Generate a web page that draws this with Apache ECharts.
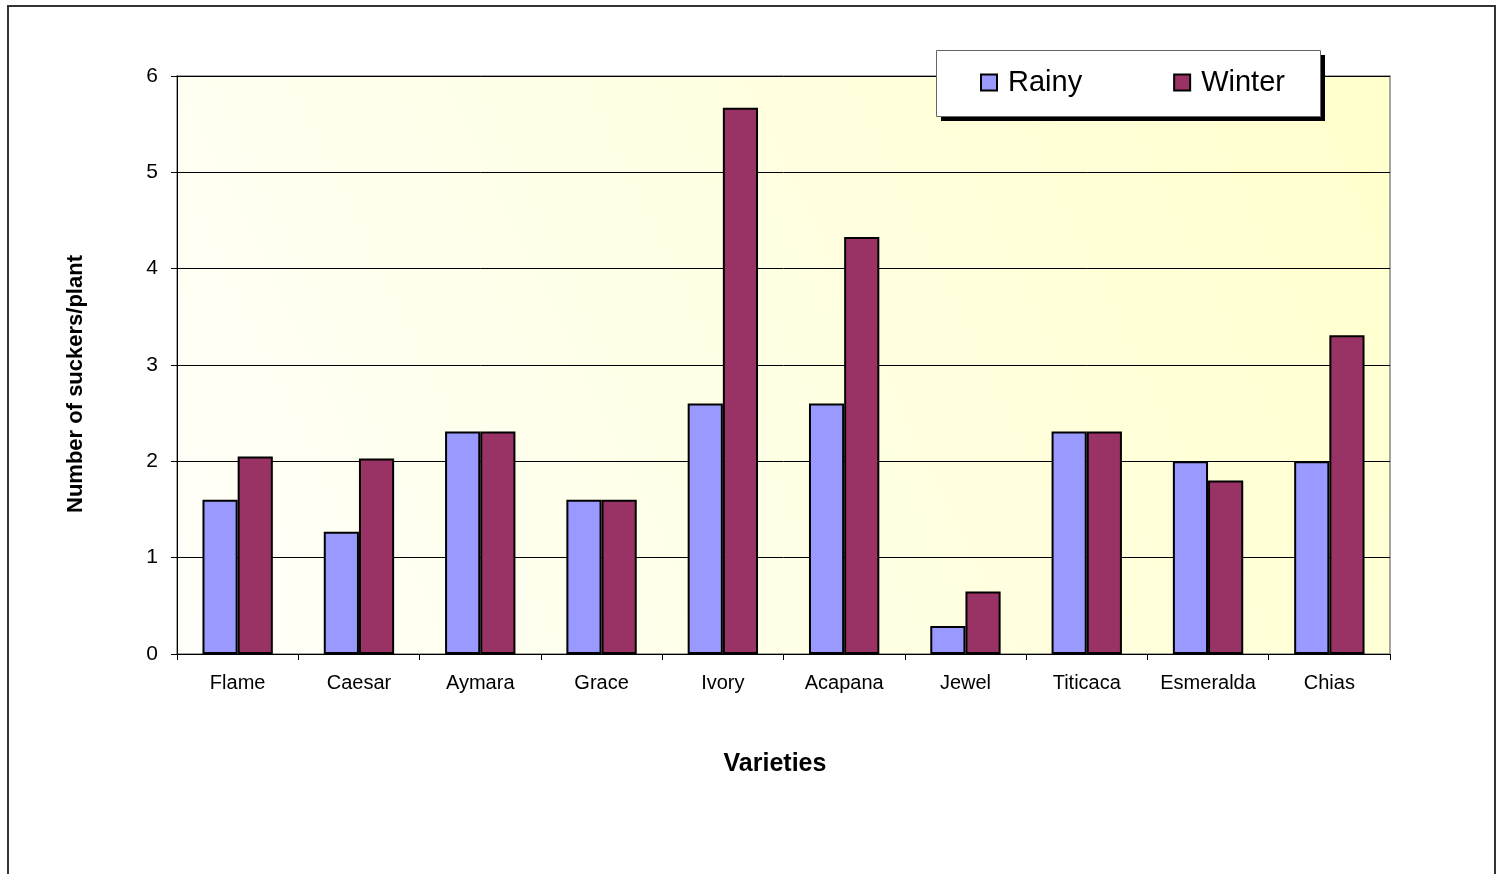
<!DOCTYPE html>
<html>
<head>
<meta charset="utf-8">
<script src="https://cdn.jsdelivr.net/npm/echarts@6/dist/echarts.min.js"></script>
<style>html,body{margin:0;padding:0;background:#fff;}#c{width:1499px;height:874px;}</style>
</head>
<body>
<div id="c"></div>
<script>
const categories = ['Flame','Caesar','Aymara','Grace','Ivory','Acapana','Jewel','Titicaca','Esmeralda','Chias'];
const rainy = [1.6, 1.27, 2.31, 1.6, 2.6, 2.6, 0.29, 2.31, 2.0, 2.0];
const winter = [2.05, 2.03, 2.31, 1.6, 5.67, 4.33, 0.65, 2.31, 1.8, 3.31];
const yTicks = [0, 1, 2, 3, 4, 5, 6];
const xTitle = 'Varieties';
const yTitle = 'Number of suckers/plant';

const chart = echarts.init(document.getElementById('c'), null, {renderer: 'canvas'});
const font = 'Arial, "Liberation Sans", sans-serif';
chart.setOption({
  animation: false,
  backgroundColor: '#fff',
  textStyle: {fontFamily: font},
  graphic: [
    {
      type: 'rect', z: 100,
      shape: {x: 8, y: 6, width: 1487, height: 900},
      style: {fill: 'none', stroke: '#333', lineWidth: 2}
    },
    {
      type: 'rect', z: 90,
      shape: {x: 941, y: 55, width: 384, height: 66},
      style: {fill: '#000'}
    },
    {
      type: 'rect', z: 91,
      shape: {x: 936.5, y: 50.5, width: 384, height: 66},
      style: {fill: '#fff', stroke: '#666', lineWidth: 1}
    },
    {
      type: 'text', z: 50,
      x: 775, y: 764,
      style: {text: xTitle, font: 'bold 25px ' + font, fill: '#000', align: 'center', verticalAlign: 'middle'}
    },
    {
      type: 'text', z: 50,
      x: 76, y: 384, rotation: Math.PI / 2,
      style: {text: yTitle, font: 'bold 22px ' + font, fill: '#000', align: 'center', verticalAlign: 'middle'}
    }
  ],
  legend: {
    left: 980, top: 68,
    data: ['Rainy', 'Winter'],
    itemWidth: 16, itemHeight: 16, itemGap: 91,
    padding: 0,
    z: 95,
    textStyle: {fontSize: 29, color: '#000', fontFamily: font, padding: [0, 0, 0, 6]},
    icon: 'rect'
  },
  grid: {
    left: 177, right: 109, top: 76, bottom: 220,
    show: true,
    borderColor: '#888', borderWidth: 1.5,
    backgroundColor: new echarts.graphic.LinearGradient(0, 1, 1, 0, [
      {offset: 0, color: '#fffffa'},
      {offset: 1, color: '#ffffcc'}
    ])
  },
  xAxis: {
    type: 'category',
    data: categories,
    axisLine: {lineStyle: {color: '#000', width: 1}},
    axisTick: {show: true, interval: 0, length: 6, lineStyle: {color: '#000'}},
    axisLabel: {interval: 0, hideOverlap: false, fontSize: 20, color: '#000', margin: 19},
    splitLine: {show: false}
  },
  yAxis: {
    type: 'value',
    min: yTicks[0], max: yTicks[yTicks.length - 1], interval: 1,
    axisLine: {show: true, lineStyle: {color: '#000', width: 1}},
    axisTick: {show: true, length: 6, lineStyle: {color: '#000'}},
    axisLabel: {fontSize: 21, color: '#000', margin: 19},
    splitLine: {show: true, lineStyle: {color: '#000', width: 1}}
  },
  series: [
    {
      name: 'Rainy', type: 'bar', data: rainy,
      barWidth: '29%', barGap: '0%',
      itemStyle: {color: '#9999ff', borderColor: '#000', borderWidth: 2}
    },
    {
      name: 'Winter', type: 'bar', data: winter,
      barWidth: '29%', barGap: '0%',
      itemStyle: {color: '#993366', borderColor: '#000', borderWidth: 2}
    }
  ]
});
</script>
</body>
</html>
